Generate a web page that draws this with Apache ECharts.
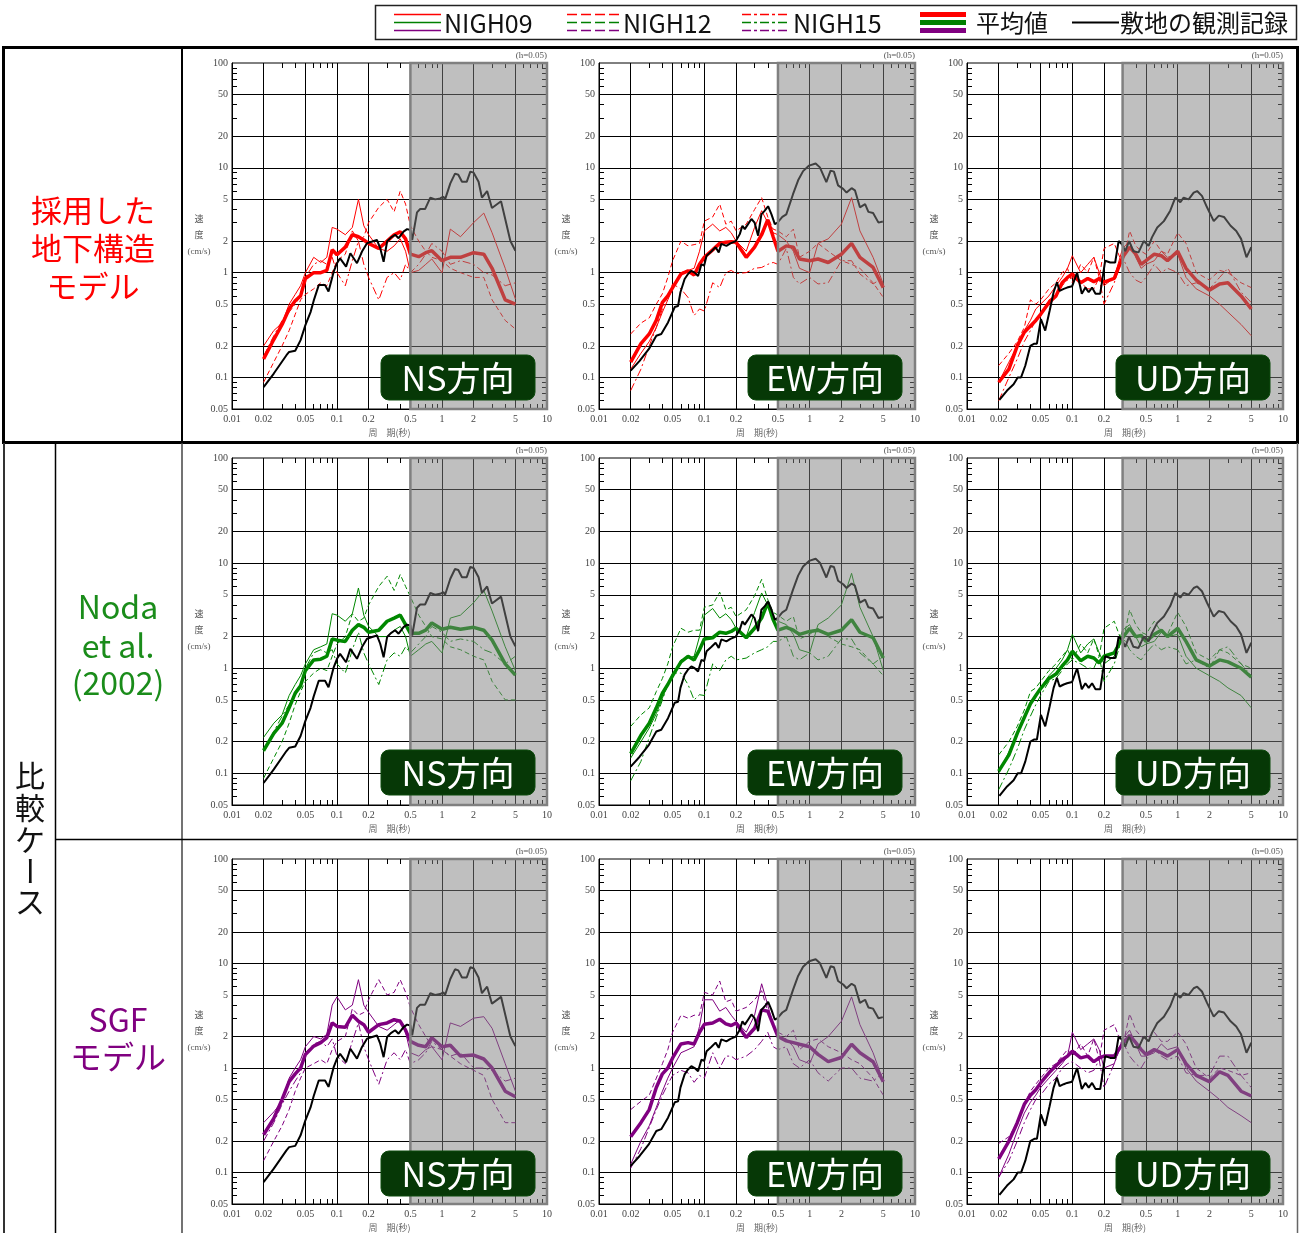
<!DOCTYPE html>
<html><head><meta charset="utf-8">
<script src="https://cdn.jsdelivr.net/npm/echarts@6.0.0/dist/echarts.min.js"></script>
<style>html,body{margin:0;padding:0;background:#fff}#c{width:1301px;height:1233px}</style>
</head><body><div id="c"></div><script>
// ---------- tick values ----------
const xLabels = [0.01,0.02,0.05,0.1,0.2,0.5,1,2,5,10];
const xMajor = [0.02,0.05,0.1,0.2,0.5,1,2,5];
const xMinor = [0.03,0.04,0.06,0.07,0.08,0.09,0.3,0.4,0.6,0.7,0.8,0.9,3,4,6,7,8,9];
const yLabels = [0.05,0.1,0.2,0.5,1,2,5,10,20,50,100];
const yMajor = [0.1,0.2,0.5,1,2,5,10,20,50];
const yMinor = [0.06,0.07,0.08,0.09,0.3,0.4,0.6,0.7,0.8,0.9,3,4,6,7,8,9,30,40,60,70,80,90];
const shadeStart = [0.5,0.5,0.3];
const directions = ['NS方向','EW方向','UD方向'];
const rowLabels = [['採用した','地下構造','モデル'],['Noda','et al.','(2002)'],['SGF','モデル']];
const legendNames = ['NIGH09','NIGH12','NIGH15','平均値','敷地の観測記録'];

// ---------- periods (s) for simulated spectra ----------
const periods = [0.02,0.025,0.03,0.035,0.04,0.045,0.05,0.06,0.07,0.08,0.09,0.1,0.12,0.14,0.16,0.18,0.2,0.25,0.3,0.35,0.4,0.45,0.5,0.6,0.7,0.8,1.0,1.2,1.5,2.0,2.5,3.0,4.0,5.0];

// ---------- adopted model (row 1) ----------
const adopted_NS_n09 = [0.2,0.28,0.33,0.5,0.62,0.75,1.0,1.4,1.25,1.4,2.7,2.6,2.3,2.7,5.0,2.8,2.3,1.7,1.6,1.8,2.1,1.6,1.0,1.05,1.2,1.35,1.0,2.6,2.2,3.0,3.7,2.4,1.1,0.56];
const adopted_NS_n12 = [0.09,0.14,0.2,0.28,0.4,0.55,0.62,0.7,0.8,0.75,1.0,1.3,1.5,2.5,2.0,2.2,3.0,4.2,5.0,3.8,6.0,4.5,2.8,2.0,1.6,1.4,1.3,1.1,1.0,0.9,0.9,0.55,0.35,0.29];
const adopted_NS_n15 = [0.16,0.25,0.35,0.42,0.5,0.6,0.9,1.2,1.3,1.2,1.4,1.0,0.75,1.3,2.0,1.2,0.9,0.55,0.9,1.0,0.85,1.2,1.0,1.2,1.5,1.9,1.6,1.2,1.3,1.2,1.0,0.95,0.75,0.8];
const adopted_NS_mean = [0.15,0.23,0.32,0.45,0.54,0.6,0.88,1.0,1.0,1.05,1.65,1.48,1.75,2.3,2.2,2.05,1.9,1.7,2.0,2.3,2.45,2.1,1.5,1.42,1.55,1.62,1.3,1.4,1.4,1.55,1.5,1.1,0.55,0.5];
const adopted_EW_n09 = [0.12,0.17,0.22,0.3,0.42,0.55,0.7,1.0,1.05,1.1,1.6,2.5,2.9,2.5,2.7,2.4,2.0,1.6,2.7,3.9,3.0,2.4,2.3,2.0,1.6,1.1,1.0,1.9,2.1,2.9,5.2,2.5,1.4,0.78];
const adopted_EW_n12 = [0.26,0.33,0.37,0.5,0.63,0.9,1.3,2.0,1.8,1.85,1.9,3.1,3.4,4.5,2.9,3.1,2.5,2.9,4.0,5.2,3.4,2.6,2.5,2.2,2.6,1.4,1.6,1.9,1.6,1.3,1.2,1.1,0.8,0.58];
const adopted_EW_n15 = [0.075,0.12,0.2,0.3,0.45,0.6,0.78,0.7,0.58,0.39,0.45,0.43,0.8,0.72,1.0,1.05,0.98,1.0,1.1,1.12,1.2,1.25,1.2,1.7,0.9,0.78,0.9,0.78,0.8,1.3,1.3,0.97,0.78,0.9];
const adopted_EW_mean = [0.14,0.21,0.26,0.35,0.52,0.6,0.72,0.97,1.04,0.95,1.2,1.4,1.65,1.9,1.95,1.97,1.95,1.4,1.75,2.3,3.2,2.2,1.6,1.8,1.75,1.35,1.3,1.35,1.25,1.5,1.9,1.4,1.12,0.72];
const adopted_UD_n09 = [0.09,0.14,0.2,0.28,0.35,0.45,0.5,0.6,0.75,0.9,1.1,1.45,1.0,1.2,1.4,1.0,0.75,0.9,1.7,2.0,1.4,1.1,1.2,1.3,1.6,1.4,1.5,0.9,0.7,0.6,0.5,0.42,0.32,0.25];
const adopted_UD_n12 = [0.13,0.17,0.22,0.3,0.55,0.5,0.55,0.7,0.8,1.0,1.1,0.8,1.2,1.0,1.4,0.9,1.7,1.9,1.2,2.5,1.8,1.6,1.5,2.0,1.6,1.5,2.4,1.9,1.0,0.85,1.05,1.0,0.8,0.72];
const adopted_UD_n15 = [0.06,0.1,0.15,0.22,0.28,0.35,0.4,0.55,0.6,0.75,0.85,0.9,0.8,0.7,0.7,0.9,0.5,0.8,1.4,1.0,0.85,0.8,0.9,1.2,1.0,1.1,1.0,0.75,0.8,0.7,0.9,1.1,0.65,0.52];
const adopted_UD_mean = [0.09,0.12,0.2,0.27,0.31,0.35,0.4,0.52,0.6,0.8,0.9,0.97,0.8,0.88,0.82,0.88,0.81,0.88,1.4,1.75,1.5,1.2,1.3,1.5,1.45,1.3,1.6,1.1,0.85,0.68,0.78,0.8,0.6,0.45];

// ---------- Noda et al. (2002) (row 2) ----------
const noda_NS_n09 = [0.22,0.3,0.36,0.55,0.7,0.85,1.1,1.5,1.6,1.7,3.3,3.2,2.8,3.3,5.8,3.2,2.5,2.0,2.0,2.3,2.5,2.0,1.3,1.5,1.7,1.8,1.4,3.0,3.2,4.2,5.5,3.5,1.6,0.95];
const noda_NS_n12 = [0.09,0.14,0.2,0.3,0.45,0.6,0.75,0.9,1.0,0.95,1.3,1.7,2.0,3.3,2.8,3.0,4.0,6.0,7.5,5.5,7.8,6.0,4.8,3.2,2.5,2.0,1.9,1.6,1.5,1.3,1.2,0.75,0.5,0.5];
const noda_NS_n15 = [0.16,0.25,0.35,0.45,0.55,0.7,1.0,1.4,1.5,1.4,1.5,1.1,0.9,1.5,2.2,1.4,1.1,0.7,1.2,1.4,1.3,1.6,1.4,1.7,2.0,2.5,2.2,1.8,1.9,1.8,1.5,1.4,1.1,1.3];
const noda_NS_mean = [0.165,0.24,0.3,0.42,0.58,0.68,0.95,1.2,1.22,1.3,1.9,1.85,1.8,2.3,2.6,2.45,2.2,2.3,2.8,3.0,3.2,2.6,2.15,2.15,2.3,2.7,2.35,2.45,2.35,2.45,2.3,1.85,1.1,0.86];
const noda_EW_n09 = [0.14,0.2,0.27,0.37,0.52,0.7,0.85,1.2,1.25,1.3,2.0,3.2,3.7,3.0,3.3,2.9,2.4,2.0,3.4,5.2,4.0,3.0,2.8,2.6,2.1,1.5,1.4,2.6,3.0,4.0,8.0,3.8,2.0,0.95];
const noda_EW_n12 = [0.28,0.36,0.42,0.6,0.8,1.1,1.6,2.4,2.2,2.3,2.3,3.8,4.0,5.3,3.6,3.8,3.1,3.6,4.9,7.0,4.5,3.4,3.2,2.8,3.1,1.9,2.1,2.4,2.0,1.7,1.6,1.5,1.1,0.85];
const noda_EW_n15 = [0.085,0.13,0.22,0.34,0.5,0.7,0.9,0.9,0.7,0.5,0.56,0.55,1.1,0.95,1.2,1.3,1.2,1.25,1.4,1.5,1.6,1.8,1.8,2.0,1.3,1.2,1.4,1.2,1.3,1.9,1.9,1.4,1.1,1.3];
const noda_EW_mean = [0.154,0.23,0.3,0.42,0.58,0.7,0.85,1.15,1.3,1.2,1.5,1.9,1.95,2.2,2.15,2.24,2.4,1.95,2.4,3.0,4.2,2.9,2.3,2.45,2.3,2.1,2.24,2.3,2.1,2.3,2.9,2.2,1.95,1.25];
const noda_UD_n09 = [0.1,0.16,0.24,0.35,0.45,0.55,0.65,0.85,1.0,1.2,1.5,2.1,1.4,1.7,1.9,1.4,1.1,1.3,2.3,2.6,2.0,1.6,1.7,1.8,2.2,2.0,2.1,1.3,1.0,0.85,0.75,0.65,0.55,0.42];
const noda_UD_n12 = [0.15,0.2,0.28,0.4,0.6,0.65,0.75,0.95,1.1,1.3,1.5,1.2,1.7,1.4,1.9,1.3,2.4,2.8,1.7,3.6,2.6,2.2,2.1,2.8,2.2,2.1,3.4,2.5,1.4,1.2,1.5,1.4,1.1,1.0];
const noda_UD_n15 = [0.07,0.11,0.17,0.26,0.35,0.45,0.55,0.75,0.8,0.95,1.1,1.2,1.1,1.0,1.0,1.3,0.75,1.1,2.0,1.5,1.3,1.2,1.4,1.7,1.5,1.6,1.5,1.1,1.2,1.0,1.5,1.6,1.1,0.85];
const noda_UD_mean = [0.105,0.15,0.24,0.34,0.46,0.55,0.64,0.8,0.88,1.05,1.2,1.45,1.18,1.3,1.25,1.12,1.3,1.4,1.95,2.4,2.0,2.05,1.8,2.1,2.3,2.0,2.4,1.8,1.2,1.05,1.2,1.15,1.0,0.82];

// ---------- SGF model (row 3) ----------
const sgf_NS_n09 = [0.3,0.38,0.48,0.8,1.0,1.2,1.6,2.0,1.9,2.1,4.0,4.8,3.6,4.0,7.0,4.0,3.4,2.5,2.3,2.6,2.9,2.2,1.4,1.3,1.5,1.6,1.2,2.7,2.5,3.0,3.1,2.4,1.1,0.6];
const sgf_NS_n12 = [0.13,0.2,0.28,0.4,0.6,0.8,1.0,1.1,1.2,1.1,1.5,1.8,2.0,3.7,3.2,3.4,4.5,7.0,5.0,5.3,7.0,5.3,3.8,2.6,2.0,1.6,1.5,1.3,1.1,0.95,0.85,0.5,0.3,0.3];
const sgf_NS_n15 = [0.2,0.3,0.45,0.6,0.75,0.9,1.4,1.7,1.8,1.6,1.9,1.3,1.1,1.8,2.7,1.6,1.2,0.7,1.2,1.4,1.2,1.5,1.1,1.2,1.4,1.8,1.5,1.3,1.4,1.0,1.0,0.95,0.75,0.8];
const sgf_NS_mean = [0.23,0.33,0.5,0.74,0.88,1.0,1.35,1.62,1.75,1.95,2.7,2.5,2.45,3.2,2.8,2.6,2.2,2.6,2.7,2.9,2.8,2.3,1.8,1.65,1.6,1.95,1.6,1.65,1.3,1.33,1.22,1.0,0.6,0.53];
const sgf_EW_n09 = [0.12,0.2,0.28,0.42,0.6,0.8,1.0,1.4,1.5,1.6,2.5,4.5,4.5,3.5,3.8,3.2,2.8,2.2,3.2,6.4,4.0,2.6,2.0,1.9,1.6,1.2,1.1,1.7,2.0,2.8,4.8,2.6,1.4,0.75];
const sgf_EW_n12 = [0.4,0.48,0.55,0.8,1.1,1.5,2.2,3.2,3.0,3.2,3.2,5.3,5.0,6.8,4.3,4.5,3.5,3.8,4.5,5.5,3.5,2.5,2.2,2.0,2.3,1.5,1.8,1.9,1.6,1.4,1.2,1.1,0.8,0.55];
const sgf_EW_n15 = [0.11,0.17,0.27,0.4,0.55,0.7,0.85,0.95,0.9,0.73,0.85,0.8,1.4,1.0,1.3,1.3,1.2,1.3,1.5,1.8,2.2,1.6,1.5,1.6,1.1,1.0,1.2,0.9,0.75,1.0,1.0,0.8,0.75,0.9];
const sgf_EW_mean = [0.22,0.3,0.4,0.65,0.88,1.0,1.25,1.7,1.75,1.7,2.2,2.62,2.7,2.93,2.65,2.55,2.7,1.96,2.4,3.6,3.5,2.6,2.0,1.82,1.75,1.69,1.6,1.35,1.15,1.26,1.69,1.4,1.15,0.74];
const sgf_UD_n09 = [0.09,0.15,0.25,0.37,0.47,0.55,0.65,0.8,0.95,1.1,1.3,2.2,1.5,1.7,1.9,1.5,1.0,1.1,1.9,2.3,1.7,1.3,1.3,1.4,1.7,1.5,1.6,1.0,0.75,0.6,0.5,0.42,0.35,0.3];
const sgf_UD_n12 = [0.19,0.22,0.3,0.45,0.6,0.7,0.8,1.0,1.1,1.3,1.5,1.3,1.7,1.3,1.9,1.2,2.3,2.6,1.6,3.3,2.3,2.0,1.9,2.2,1.8,1.8,2.2,1.7,1.0,0.8,1.0,0.95,0.85,0.9];
const sgf_UD_n15 = [0.09,0.13,0.2,0.3,0.4,0.5,0.55,0.7,0.8,1.0,1.1,1.15,1.0,0.9,0.95,1.2,0.65,1.1,1.8,1.3,1.1,1.0,1.2,1.5,1.3,1.2,1.3,0.9,0.85,0.85,1.3,1.3,0.85,0.65];
const sgf_UD_mean = [0.135,0.2,0.3,0.45,0.55,0.62,0.72,0.9,1.05,1.2,1.3,1.45,1.25,1.3,1.15,1.25,1.3,1.3,1.7,2.05,1.75,1.5,1.35,1.5,1.4,1.3,1.5,1.1,0.85,0.74,0.92,0.85,0.6,0.54];

// ---------- site observation records ----------
const obsNS_T = [0.02,0.025,0.033,0.035,0.04,0.045,0.05,0.056,0.06,0.067,0.077,0.083,0.093,0.1,0.107,0.122,0.134,0.155,0.173,0.193,0.216,0.24,0.258,0.278,0.3,0.326,0.358,0.386,0.43,0.465,0.5,0.52,0.578,0.62,0.69,0.774,0.86,0.96,1.03,1.07,1.2,1.33,1.43,1.55,1.72,1.86,2.0,2.23,2.4,2.69,2.99,3.65,4.0,4.48,5.0];
const obsNS_V = [0.081,0.109,0.163,0.175,0.18,0.227,0.316,0.42,0.54,0.76,0.76,0.66,1.02,1.23,1.37,1.14,1.53,1.23,1.59,1.91,1.98,2.05,1.71,1.27,1.98,2.16,2.3,2.13,2.46,2.6,2.55,2.05,3.76,4.04,4.04,5.2,5.0,5.1,5.3,5.0,7.1,8.8,8.6,7.35,7.35,9.2,9.0,7.35,5.2,6.0,4.13,4.8,3.25,2.0,1.62];
const obsEW_T = [0.02,0.0243,0.0298,0.035,0.039,0.0452,0.0524,0.0563,0.0593,0.065,0.07,0.0753,0.081,0.0872,0.0938,0.0996,0.105,0.117,0.128,0.137,0.145,0.162,0.177,0.199,0.217,0.23,0.242,0.26,0.28,0.3,0.324,0.348,0.375,0.403,0.434,0.467,0.495,0.55,0.6,0.695,0.777,0.866,0.987,1.14,1.25,1.44,1.58,1.7,1.86,2.08,2.24,2.5,2.69,3.0,3.36,3.61,4.0,4.5,4.95];
const obsEW_V = [0.116,0.144,0.187,0.25,0.26,0.335,0.47,0.48,0.65,0.87,0.97,1.04,1.0,0.93,1.2,1.17,1.45,1.6,1.75,1.56,1.88,1.8,1.9,2.0,2.33,2.8,2.6,2.9,3.25,3.0,2.25,3.6,3.9,4.3,3.6,2.9,3.0,3.4,3.6,5.6,7.6,9.3,10.5,11.0,10.1,7.3,9.4,9.2,6.8,6.3,5.8,6.4,6.1,4.2,4.5,3.8,3.7,3.0,3.07];
const obsUD_T = [0.0203,0.024,0.0277,0.0303,0.0326,0.0358,0.0399,0.0436,0.0461,0.0503,0.0553,0.0608,0.0664,0.0714,0.0757,0.0828,0.0891,0.0995,0.111,0.123,0.133,0.143,0.154,0.166,0.184,0.205,0.229,0.255,0.275,0.296,0.318,0.346,0.38,0.425,0.476,0.53,0.57,0.64,0.74,0.85,0.95,1.06,1.14,1.27,1.42,1.53,1.7,1.9,2.2,2.46,2.75,3.18,3.6,4.0,4.5,5.0];
const obsUD_V = [0.061,0.075,0.086,0.1,0.1,0.13,0.2,0.21,0.21,0.36,0.28,0.43,0.65,0.81,0.67,0.7,0.72,0.74,1.0,0.63,0.72,0.65,0.72,0.63,0.63,1.3,1.25,1.25,2.0,1.87,1.6,2.0,1.6,1.56,2.0,1.8,2.17,2.7,3.1,3.9,5.2,4.7,5.2,5.0,5.8,6.0,5.4,4.2,3.1,3.5,3.4,2.8,2.5,2.1,1.4,1.75];

// ---------- assembly ----------
const rowSets = [
  [[adopted_NS_n09,adopted_NS_n12,adopted_NS_n15,adopted_NS_mean],[adopted_EW_n09,adopted_EW_n12,adopted_EW_n15,adopted_EW_mean],[adopted_UD_n09,adopted_UD_n12,adopted_UD_n15,adopted_UD_mean]],
  [[noda_NS_n09,noda_NS_n12,noda_NS_n15,noda_NS_mean],[noda_EW_n09,noda_EW_n12,noda_EW_n15,noda_EW_mean],[noda_UD_n09,noda_UD_n12,noda_UD_n15,noda_UD_mean]],
  [[sgf_NS_n09,sgf_NS_n12,sgf_NS_n15,sgf_NS_mean],[sgf_EW_n09,sgf_EW_n12,sgf_EW_n15,sgf_EW_mean],[sgf_UD_n09,sgf_UD_n12,sgf_UD_n15,sgf_UD_mean]]
];
const obsT = [obsNS_T, obsEW_T, obsUD_T];
const obsV = [obsNS_V, obsEW_V, obsUD_V];

const rowColors = ['#ff0000','#008800','#800080'];
const labelColors = ['#ff0000','#1a8c1a','#800080'];
const legendColors = ['#ff0000','#008000','#800080'];
const colLeft = [232,599,967], colW = [315,316,316];
const rowTop = [63,458,859], rowH = [346,347,347];
const lineTypes = ['solid',[5,3],[8,3,2,3]];
const SERIF = '"Liberation Serif", "DejaVu Serif", serif';
const JP = '"Noto Sans CJK JP", "Noto Sans", sans-serif';
const fmt = v => String(+(+v).toPrecision(3));
const zip = (a,b) => a.map((x,i) => [x,b[i]]);

const grids = [], xAxes = [], yAxes = [], series = [], graphics = [];

for (let r = 0; r < 3; r++) {
  for (let c = 0; c < 3; c++) {
    const g = r*3 + c;
    const L = colLeft[c], T = rowTop[r], W = colW[c], H = rowH[r];
    grids.push({left:L, top:T, width:W, height:H, show:true, borderColor:'#000', borderWidth:1, backgroundColor:'transparent'});
    const xBase = {type:'log', logBase:10, gridIndex:g, min:0.01, max:10};
    const yBase = {type:'log', logBase:10, gridIndex:g, min:0.05, max:100};
    xAxes.push(Object.assign({}, xBase, {
      position:'bottom',
      axisLine:{show:true, lineStyle:{color:'#000', width:1}},
      axisTick:{show:true, inside:true, length:5, customValues:xMinor, lineStyle:{color:'#000', width:1}},
      axisLabel:{show:true, customValues:xLabels, formatter:fmt, fontSize:10, fontFamily:SERIF, color:'#444', margin:5},
      splitLine:{show:false},
      name:'周　期(秒)', nameLocation:'middle', nameGap:19,
      nameTextStyle:{fontSize:9, fontFamily:JP, color:'#666'}
    }));
    xAxes.push(Object.assign({}, xBase, {
      position:'top', axisLine:{show:false},
      axisTick:{show:true, inside:true, length:5, customValues:xMinor, lineStyle:{color:'#000', width:1}},
      axisLabel:{show:false}, splitLine:{show:false}
    }));
    xAxes.push(Object.assign({}, xBase, {
      position:'bottom', axisLine:{show:false},
      axisTick:{show:false, customValues:xMajor},
      axisLabel:{show:false},
      splitLine:{show:true, lineStyle:{color:'#000', width:1}}
    }));
    yAxes.push(Object.assign({}, yBase, {
      position:'left',
      axisLine:{show:true, lineStyle:{color:'#000', width:1}},
      axisTick:{show:true, inside:true, length:5, customValues:yMinor, lineStyle:{color:'#000', width:1}},
      axisLabel:{show:true, customValues:yLabels, formatter:fmt, fontSize:10, fontFamily:SERIF, color:'#444', margin:4},
      splitLine:{show:false}
    }));
    yAxes.push(Object.assign({}, yBase, {
      position:'right', axisLine:{show:false},
      axisTick:{show:true, inside:true, length:5, customValues:yMinor, lineStyle:{color:'#000', width:1}},
      axisLabel:{show:false}, splitLine:{show:false}
    }));
    yAxes.push(Object.assign({}, yBase, {
      position:'left', axisLine:{show:false},
      axisTick:{show:false, customValues:yMajor},
      axisLabel:{show:false},
      splitLine:{show:true, lineStyle:{color:'#000', width:1}}
    }));

    const sets = rowSets[r][c];
    const color = rowColors[r];
    for (let k = 0; k < 3; k++) {
      series.push({type:'line', name:legendNames[k], xAxisIndex:3*g, yAxisIndex:3*g, data:zip(periods, sets[k]),
        symbol:'none', silent:true, animation:false, z:3,
        lineStyle:{color:color, width:1, type:lineTypes[k]}});
    }
    series.push({type:'line', name:legendNames[3], xAxisIndex:3*g, yAxisIndex:3*g, data:zip(periods, sets[3]),
      symbol:'none', silent:true, animation:false, z:4,
      lineStyle:{color:color, width:3.5}});
    series.push({type:'line', name:legendNames[4], xAxisIndex:3*g, yAxisIndex:3*g, data:zip(obsT[c], obsV[c]),
      symbol:'none', silent:true, animation:false, z:5,
      lineStyle:{color:'#000', width:2}});
    // shaded (gray) period range
    series.push({type:'line', xAxisIndex:3*g, yAxisIndex:3*g, data:[], silent:true, animation:false, z:10,
      markArea:{silent:true, z:10, animation:false,
        itemStyle:{color:'rgba(128,128,128,0.5)', borderColor:'#808080', borderWidth:2.5},
        data:[[{xAxis:shadeStart[c], yAxis:0.05},{xAxis:10, yAxis:100}]]}});

    // panel texts
    graphics.push({type:'text', x:L+W, y:T-7, silent:true, z:20,
      style:{text:'(h=0.05)', fontSize:9, fontFamily:SERIF, fill:'#555', align:'right', verticalAlign:'middle'}});
    graphics.push({type:'text', x:L-33, y:T+156, silent:true, z:20,
      style:{text:'速', fontSize:9, fontFamily:JP, fill:'#555', align:'center', verticalAlign:'middle'}});
    graphics.push({type:'text', x:L-33, y:T+172, silent:true, z:20,
      style:{text:'度', fontSize:9, fontFamily:JP, fill:'#555', align:'center', verticalAlign:'middle'}});
    graphics.push({type:'text', x:L-33, y:T+189, silent:true, z:20,
      style:{text:'(cm/s)', fontSize:9, fontFamily:SERIF, fill:'#555', align:'center', verticalAlign:'middle'}});
    // direction badge
    graphics.push({type:'rect', silent:true, z:30, shape:{x:L+149, y:T+292, width:154, height:45, r:8},
      style:{fill:'#063806', stroke:'#0d4a0d', lineWidth:1}});
    graphics.push({type:'text', silent:true, z:31, x:L+149+77, y:T+292+23,
      style:{text:directions[c], fontSize:34, fontFamily:JP, fill:'#fff', align:'center', verticalAlign:'middle'}});
  }
}

// frame lines
graphics.push({type:'rect', silent:true, z:40, shape:{x:3.5, y:47.5, width:1294, height:395}, style:{fill:null, stroke:'#000', lineWidth:3}});
graphics.push({type:'line', silent:true, z:40, shape:{x1:182, y1:47, x2:182, y2:443}, style:{stroke:'#000', lineWidth:2}});
graphics.push({type:'line', silent:true, z:40, shape:{x1:4, y1:443, x2:4, y2:1233}, style:{stroke:'#333', lineWidth:2}});
graphics.push({type:'line', silent:true, z:40, shape:{x1:55.5, y1:443, x2:55.5, y2:1233}, style:{stroke:'#000', lineWidth:1.5}});
graphics.push({type:'line', silent:true, z:40, shape:{x1:182, y1:443, x2:182, y2:1233}, style:{stroke:'#444', lineWidth:1.5}});
graphics.push({type:'line', silent:true, z:40, shape:{x1:55, y1:839.5, x2:1298, y2:839.5}, style:{stroke:'#000', lineWidth:1.5}});
graphics.push({type:'line', silent:true, z:40, shape:{x1:1297.5, y1:443, x2:1297.5, y2:1233}, style:{stroke:'#666', lineWidth:1.5}});

// row labels
const rowLabelPos = [[93,[210,248,286]],[118,[607,646,683]],[118,[1020,1057]]];
for (let r = 0; r < 3; r++) {
  const [cx, ys] = rowLabelPos[r];
  rowLabels[r].forEach((t,i) => graphics.push({type:'text', silent:true, z:40, x:cx, y:ys[i],
    style:{text:t, fontSize:r===0?31:32, fontFamily:JP, fill:labelColors[r], align:'center', verticalAlign:'middle'}}));
}
// vertical label 比較ケース
const vChars = ['比','較','ケ','ー','ス'], vYs = [776,808,840,871,902];
vChars.forEach((ch,i) => graphics.push({type:'text', silent:true, z:40, x:30, y:vYs[i], rotation: ch==='ー' ? -Math.PI/2 : 0,
  style:{text:ch, fontSize:30, fontFamily:JP, fill:'#111', align:'center', verticalAlign:'middle'}}));

// legend
graphics.push({type:'rect', silent:true, z:40, shape:{x:375.5, y:5.5, width:921, height:34}, style:{fill:'#fff', stroke:'#222', lineWidth:1.5}});
const legItems = [{x0:394,x1:441,tx:444,dash:null},{x0:567,x1:620,tx:623,dash:[10,4]},{x0:742,x1:790,tx:793,dash:[9,3,3,3]}];
const legYs = [14.5,22.5,30.5];
legItems.forEach((it,k) => {
  legYs.forEach((yy,j) => graphics.push({type:'line', silent:true, z:41, shape:{x1:it.x0, y1:yy, x2:it.x1, y2:yy},
    style:{stroke:legendColors[j], lineWidth:1.6, lineDash:it.dash}}));
  graphics.push({type:'text', silent:true, z:41, x:it.tx, y:23, style:{text:legendNames[k], fontSize:25, fontFamily:JP, fill:'#111', align:'left', verticalAlign:'middle'}});
});
legYs.forEach((yy,j) => graphics.push({type:'line', silent:true, z:41, shape:{x1:920, y1:yy, x2:966, y2:yy}, style:{stroke:legendColors[j], lineWidth:5}}));
graphics.push({type:'text', silent:true, z:41, x:976, y:23, style:{text:legendNames[3], fontSize:24, fontFamily:JP, fill:'#111', align:'left', verticalAlign:'middle'}});
graphics.push({type:'line', silent:true, z:41, shape:{x1:1072, y1:22.5, x2:1119, y2:22.5}, style:{stroke:'#000', lineWidth:2.2}});
graphics.push({type:'text', silent:true, z:41, x:1120, y:23, style:{text:legendNames[4], fontSize:24, fontFamily:JP, fill:'#111', align:'left', verticalAlign:'middle'}});

const chart = echarts.init(document.getElementById('c'), null, {renderer:'canvas'});
chart.setOption({
  animation:false,
  backgroundColor:'#fff',
  textStyle:{fontFamily:JP},
  grid:grids, xAxis:xAxes, yAxis:yAxes, series:series,
  graphic:{elements:graphics}
});
</script></body></html>
